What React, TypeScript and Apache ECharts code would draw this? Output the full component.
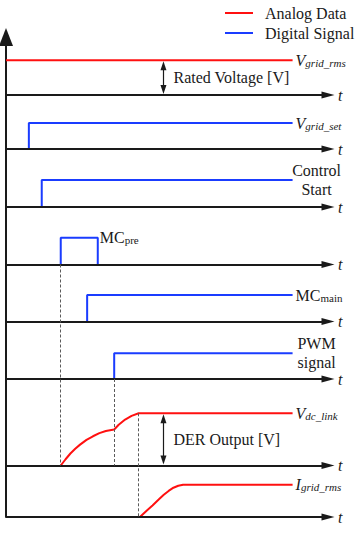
import React, { useEffect, useRef } from 'react';
import * as echarts from 'echarts';

const SERIF = '"Liberation Serif", "Times New Roman", Times, serif';
const RED = '#ff1010';
const BLUE = '#1a3cff';
const INK = '#1a1a1a';
const GUIDE = '#5a5a5a';

// ---------------- data (time in arbitrary units, levels normalised to final value) -------------
const LEGEND_NAMES = ['Analog Data', 'Digital Signal'];
const T_MAX = 100;      // end of every time axis
const T_END = 89;       // where every trace stops
const T_ARROW = 48.9;   // time of the two magnitude arrows

// digital switching instants
const vGridSetOn = 7.1;
const controlStartOn = 11.1;
const mcPreOn = 17.0;
const mcPreOff = 28.5;
const mcMainOn = 25.2;
const pwmOn = 33.6;
const vDcSettle = 41.2;

// analog traces
const vGridRmsTime = [0, T_END];
const vGridRmsLevel = [1, 1];
const vDcLinkTime = [17.0, 18.5, 20, 21.5, 23, 25, 27, 29, 31, 33.6, 35, 37, 39, 41.2, T_END];
const vDcLinkLevel = [0, 0.12, 0.23, 0.32, 0.4, 0.49, 0.56, 0.62, 0.66, 0.69, 0.78, 0.88, 0.95, 1, 1];
const iGridTime = [41.6, 43.5, 45.5, 47.5, 49, 50.5, 52, 53.5, 55, T_END];
const iGridLevel = [0, 0.18, 0.36, 0.55, 0.69, 0.81, 0.91, 0.97, 1, 1];

// ---------------- layout of the stacked rows (y units = px above the bottom axis) --------------
const Y_MAX = 480;
const ROW_BASE = [422, 368, 310, 252.5, 195.5, 138, 51.5, 0];
const ROW_AMP = [34.7, 26, 27, 26.8, 26.5, 25.7, 52.2, 32.2];
const ARROW_INSET = 5.5;

const AXIS_HEAD = 'path://M5,0L10,18L0,18Z';
const DIM_HEAD = 'path://M3,0L6,9L0,9Z';

const yOf = (row: number, level: number) => ROW_BASE[row] + level * ROW_AMP[row];
const trace = (row: number, t: number[], lv: number[]) => t.map((x, i) => [x, yOf(row, lv[i])]);
const stepUp = (row: number, tOn: number) => [
  [tOn, yOf(row, 0)],
  [tOn, yOf(row, 1)],
  [T_END, yOf(row, 1)],
];
const pulse = (row: number, tOn: number, tOff: number) => [
  [tOn, yOf(row, 0)],
  [tOn, yOf(row, 1)],
  [tOff, yOf(row, 1)],
  [tOff, yOf(row, 0)],
];

const RICH = {
  v: { fontFamily: SERIF, fontSize: 16, fontStyle: 'italic', color: INK, verticalAlign: 'bottom', lineHeight: 16 },
  s: { fontFamily: SERIF, fontSize: 11, fontStyle: 'italic', color: INK, verticalAlign: 'bottom', lineHeight: 16 },
  n: { fontFamily: SERIF, fontSize: 16, color: INK, verticalAlign: 'bottom', lineHeight: 16 },
  ns: { fontFamily: SERIF, fontSize: 11, color: INK, verticalAlign: 'bottom', lineHeight: 16 },
};

const subLabel = (text: string) => ({
  show: true,
  formatter: () => text,
  distance: 3,
  color: INK,
  fontFamily: SERIF,
  fontSize: 16,
  rich: RICH,
});
const twoLineLabel = (text: string) => ({
  show: true,
  formatter: () => text,
  distance: 24,
  align: 'center',
  verticalAlign: 'middle',
  lineHeight: 19,
  color: INK,
  fontFamily: SERIF,
  fontSize: 16,
});

const signal = (name: string, color: string, data: number[][], endLabel: any, extra: any = {}) => ({
  type: 'line',
  name,
  data,
  symbol: 'none',
  silent: true,
  lineStyle: { color, width: 2 },
  itemStyle: { color },
  emphasis: { disabled: true },
  endLabel,
  z: 3,
  ...extra,
});

export default function App() {
  const ref = useRef<HTMLDivElement>(null);
  useEffect(() => {
    if (!ref.current) return;
    const chart = echarts.init(ref.current, null, { renderer: 'svg' });
    const option: any = {
      animation: false,
      backgroundColor: '#ffffff',
      grid: { left: 6, right: 31, top: 37, bottom: 17, containLabel: false },
      legend: {
        orient: 'vertical',
        left: 225,
        top: 3,
        padding: 0,
        itemGap: 0,
        itemWidth: 28,
        itemHeight: 2,
        icon: 'rect',
        selectedMode: false,
        data: LEGEND_NAMES,
        textStyle: { fontFamily: SERIF, fontSize: 16, color: INK, lineHeight: 20, padding: [0, 0, 0, 7] },
      },
      xAxis: { type: 'value', min: 0, max: T_MAX, show: false },
      yAxis: {
        type: 'value',
        min: 0,
        max: Y_MAX,
        axisLine: {
          show: true,
          onZero: false,
          symbol: ['none', 'triangle'],
          symbolSize: [14, 18],
          lineStyle: { color: INK, width: 2 },
        },
        axisTick: { show: false },
        axisLabel: { show: false },
        splitLine: { show: false },
      },
      series: [
        // time axes of every row
        {
          type: 'line',
          name: '_axes',
          data: [],
          silent: true,
          markLine: {
            silent: true,
            symbol: ['none', AXIS_HEAD],
            symbolSize: 13,
            symbolKeepAspect: true,
            lineStyle: { color: INK, width: 2, type: 'solid' },
            itemStyle: { color: INK },
            emphasis: { disabled: true },
            label: {
              show: true,
              position: 'end',
              distance: 10,
              formatter: () => 't',
              fontFamily: SERIF,
              fontStyle: 'italic',
              fontSize: 16,
              color: INK,
            },
            data: ROW_BASE.map((_, r) => [{ coord: [0, yOf(r, 0)] }, { coord: [T_MAX, yOf(r, 0)] }]),
          },
        },
        // dashed guides
        {
          type: 'line',
          name: '_guides',
          data: [],
          silent: true,
          markLine: {
            silent: true,
            symbol: 'none',
            lineStyle: { color: GUIDE, width: 1, type: [3, 2] },
            emphasis: { disabled: true },
            label: { show: false },
            data: [
              [{ coord: [mcPreOn, yOf(3, 0)] }, { coord: [mcPreOn, yOf(6, 0)] }],
              [{ coord: [pwmOn, yOf(5, 0)] }, { coord: [pwmOn, yOf(6, 0)] }],
              [{ coord: [vDcSettle, yOf(6, 1)] }, { coord: [vDcSettle, yOf(7, 0)] }],
            ],
          },
        },
        // magnitude arrows + captions
        {
          type: 'line',
          name: '_arrows',
          data: [],
          silent: true,
          markLine: {
            silent: true,
            symbol: [DIM_HEAD, DIM_HEAD],
            symbolSize: 9,
            symbolKeepAspect: true,
            lineStyle: { color: INK, width: 1.2, type: 'solid' },
            itemStyle: { color: INK },
            emphasis: { disabled: true },
            label: { show: false },
            data: [
              [{ coord: [T_ARROW, yOf(0, 0) + ARROW_INSET] }, { coord: [T_ARROW, yOf(0, 1) - ARROW_INSET] }],
              [{ coord: [T_ARROW, yOf(6, 0) + ARROW_INSET] }, { coord: [T_ARROW, yOf(6, 1) - ARROW_INSET] }],
            ],
          },
          markPoint: {
            silent: true,
            symbol: 'circle',
            symbolSize: 0,
            label: {
              show: true,
              position: 'right',
              distance: 10,
              formatter: (p: any) => p.name,
              fontFamily: SERIF,
              fontSize: 16,
              color: INK,
            },
            data: [
              { name: 'Rated Voltage [V]', coord: [T_ARROW, yOf(0, 0.5)] },
              { name: 'DER Output [V]', coord: [T_ARROW, yOf(6, 0.5)] },
            ],
          },
        },
        signal('Analog Data', RED, trace(0, vGridRmsTime, vGridRmsLevel), subLabel('{v|V}{s|grid_rms}')),
        signal('Digital Signal', BLUE, stepUp(1, vGridSetOn), subLabel('{v|V}{s|grid_set}')),
        signal('Digital Signal', BLUE, stepUp(2, controlStartOn), twoLineLabel('Control\nStart')),
        signal('Digital Signal', BLUE, pulse(3, mcPreOn, mcPreOff), undefined, {
          markPoint: {
            silent: true,
            symbol: 'circle',
            symbolSize: 0,
            label: {
              show: true,
              position: 'right',
              distance: 2,
              formatter: () => '{n|MC}{ns|pre}',
              rich: RICH,
              color: INK,
            },
            data: [{ coord: [mcPreOff, yOf(3, 1)] }],
          },
        }),
        signal('Digital Signal', BLUE, stepUp(4, mcMainOn), subLabel('{n|MC}{ns|main}')),
        signal('Digital Signal', BLUE, stepUp(5, pwmOn), twoLineLabel('PWM\nsignal')),
        signal('Analog Data', RED, trace(6, vDcLinkTime, vDcLinkLevel), subLabel('{v|V}{s|dc_link}')),
        signal('Analog Data', RED, trace(7, iGridTime, iGridLevel), subLabel('{v|I}{s|grid_rms}')),
      ],
    };
    chart.setOption(option);
    return () => chart.dispose();
  }, []);
  return (
    <div
      ref={ref}
      style={{ position: 'fixed', left: 0, top: 0, width: 359, height: 534, background: '#fff' }}
    />
  );
}
